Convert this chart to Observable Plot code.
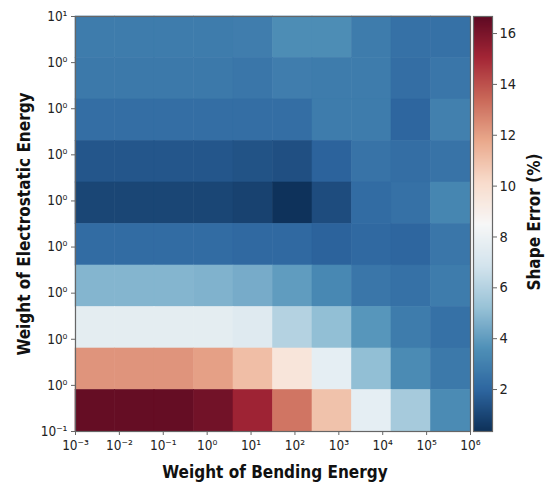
<!DOCTYPE html>
<html>
<head>
<meta charset="utf-8">
<script src="https://cdn.jsdelivr.net/npm/d3@7"></script>
<script src="https://cdn.jsdelivr.net/npm/@observablehq/plot@0.6"></script>
<style>
  body { margin: 0; background: #fff; }
  #wrap { position: relative; width: 547px; height: 486px; font-family: "DejaVu Sans", sans-serif; font-stretch: condensed; }
  #wrap svg { position: absolute; font-stretch: condensed; }
  .title { position: absolute; font-weight: bold; font-size: 17px; color: #111; white-space: nowrap; font-stretch: condensed; }
</style>
</head>
<body>
<div id="wrap"></div>
<script>
// Tick labels
const xLabels = ["10⁻³","10⁻²","10⁻¹","10⁰","10¹","10²","10³","10⁴","10⁵","10⁶"];
// bottom to top
const yLabels = ["10⁻¹","10⁰","10⁰","10⁰","10⁰","10⁰","10⁰","10⁰","10⁰","10¹"];
const colorTicks = [2, 4, 6, 8, 10, 12, 14, 16];
const colorDomain = [0.35, 16.67];

// Shape error (%), rows listed top (10¹) to bottom (10⁻¹), columns left to right
const row0 = [2.8, 2.8, 2.8, 2.8, 2.9, 3.5, 3.5, 2.8, 2.4, 2.4];
const row1 = [2.7, 2.7, 2.7, 2.7, 2.6, 2.9, 2.8, 2.8, 2.3, 2.6];
const row2 = [2.3, 2.3, 2.3, 2.3, 2.3, 2.3, 2.8, 2.8, 2.0, 3.0];
const row3 = [1.5, 1.5, 1.5, 1.5, 1.4, 1.3, 1.9, 2.5, 2.3, 2.5];
const row4 = [1.0, 1.0, 1.0, 1.0, 0.9, 0.4, 1.2, 2.2, 2.4, 3.2];
const row5 = [2.2, 2.2, 2.2, 2.2, 2.1, 2.1, 1.9, 2.1, 2.0, 2.6];
const row6 = [4.8, 4.8, 4.8, 4.7, 4.5, 4.0, 3.3, 2.6, 2.4, 2.8];
const row7 = [7.6, 7.6, 7.6, 7.6, 7.4, 6.0, 5.1, 3.8, 2.8, 2.4];
const row8 = [12.3, 12.3, 12.3, 12.0, 11.1, 9.6, 7.7, 5.1, 3.4, 2.7];
const row9 = [16.5, 16.5, 16.5, 16.2, 15.2, 13.1, 11.0, 7.7, 5.6, 3.4];
const rows = [row0, row1, row2, row3, row4, row5, row6, row7, row8, row9];

const nCols = xLabels.length;
const nRows = rows.length;
const cells = rows.flatMap((r, ri) => r.map((v, ci) => ({col: ci, row: nRows - 1 - ri, v})));

// matplotlib RdBu_r stops, slightly muted like the reference
const rdbuStops = ["#053061","#2166ac","#4393c3","#92c5de","#d1e5f0","#f7f7f7","#fddbc7","#f4a582","#d6604d","#b2182b","#67001f"];
const base = d3.piecewise(d3.interpolateRgb, rdbuStops);
const interp = t => { const c = d3.hsl(base(t)); c.s *= 0.82; return c.formatHex(); };

const font = '"DejaVu Sans", sans-serif';
const xTicks = xLabels.map((_, i) => i * nCols / (xLabels.length - 1));
const yTicks = yLabels.map((_, i) => i * nRows / (yLabels.length - 1));

const main = Plot.plot({
  width: 547, height: 486,
  marginLeft: 75, marginRight: 77, marginTop: 16, marginBottom: 55,
  style: {fontFamily: font, fontSize: "13px", color: "#222", background: "transparent", overflow: "visible"},
  x: {domain: [0, nCols]},
  y: {domain: [0, nRows]},
  color: {type: "linear", domain: colorDomain, interpolate: interp},
  marks: [
    Plot.rect(cells, {x1: "col", x2: d => d.col + 1, y1: "row", y2: d => d.row + 1, fill: "v", stroke: "v", strokeWidth: 0.6}),
    Plot.frame({stroke: "#666", strokeWidth: 1.2}),
    Plot.axisX({ticks: xTicks, tickFormat: d => xLabels[Math.round(d * (xLabels.length - 1) / nCols)], tickSize: 4, tickPadding: 5, label: null, stroke: "#666", fontSize: 13.5}),
    Plot.axisY({ticks: yTicks, tickFormat: d => yLabels[Math.round(d * (yLabels.length - 1) / nRows)], tickSize: 4, tickPadding: 4, label: null, stroke: "#666", fontSize: 13.5})
  ]
});
main.style.left = "0px"; main.style.top = "0px";

const bar = Plot.plot({
  width: 80, height: 486,
  marginLeft: 0, marginRight: 61, marginTop: 16, marginBottom: 55,
  style: {fontFamily: font, fontSize: "14px", color: "#222", background: "transparent", overflow: "visible"},
  x: {domain: [0, 1], axis: null},
  y: {domain: colorDomain},
  color: {type: "linear", domain: colorDomain, interpolate: interp},
  marks: [
    Plot.raster({fill: (x, y) => y, x1: 0, x2: 1, y1: colorDomain[0], y2: colorDomain[1], width: 1, height: 415}),
    Plot.frame({stroke: "#666", strokeWidth: 1.2}),
    Plot.axisY({anchor: "right", ticks: colorTicks, tickSize: 4, tickPadding: 3, label: null, stroke: "#666", fontSize: 14.5})
  ]
});
bar.style.left = "473px"; bar.style.top = "0px";

const wrap = document.getElementById("wrap");
wrap.appendChild(main);
wrap.appendChild(bar);

function addTitle(text, css) {
  const d = document.createElement("div");
  d.className = "title";
  d.textContent = text;
  Object.assign(d.style, css);
  wrap.appendChild(d);
  return d;
}
addTitle("Weight of Bending Energy", {left: "275px", top: "462px", transform: "translateX(-50%)"});
addTitle("Weight of Electrostatic Energy", {left: "24px", top: "224px", transform: "translate(-50%,-50%) rotate(-90deg)"});
addTitle("Shape Error (%)", {left: "534px", top: "222px", transform: "translate(-50%,-50%) rotate(-90deg)"});
</script>
</body>
</html>
